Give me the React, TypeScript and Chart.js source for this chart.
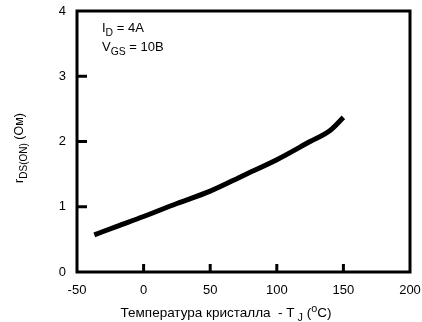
import React, { useEffect, useRef } from "react";
import { Chart, registerables } from "chart.js";

Chart.register(...registerables);

const temperatures = [-37, -20, 0, 25, 50, 75, 100, 125, 140, 150];
const resistance = [0.57, 0.7, 0.85, 1.05, 1.24, 1.48, 1.72, 2.0, 2.17, 2.37];
const xTicks = [-50, 0, 50, 100, 150, 200];
const yTicks = [0, 1, 2, 3, 4];

const FONT = "'Liberation Sans', Arial, sans-serif";

type Seg = { t: string; sub?: boolean; sup?: boolean };

function drawRich(ctx: CanvasRenderingContext2D, segs: Seg[], x: number, y: number, size: number, align: "left" | "center") {
  const widths = segs.map((s) => {
    ctx.font = `${s.sub || s.sup ? size * 0.8 : size}px ${FONT}`;
    return ctx.measureText(s.t).width;
  });
  const total = widths.reduce((a, b) => a + b, 0);
  let cx = align === "center" ? x - total / 2 : x;
  ctx.textAlign = "left";
  ctx.textBaseline = "alphabetic";
  segs.forEach((s, i) => {
    ctx.font = `${s.sub || s.sup ? size * 0.8 : size}px ${FONT}`;
    const dy = s.sub ? size * 0.3 : s.sup ? -size * 0.4 : 0;
    ctx.fillText(s.t, cx, y + dy);
    cx += widths[i];
  });
}

const framePlugin = {
  id: "frameAndText",
  afterDraw(chart: any) {
    const { ctx, chartArea: a, scales } = chart;
    ctx.save();
    ctx.strokeStyle = "#000";
    ctx.lineWidth = 3;
    ctx.strokeRect(a.left, a.top, a.right - a.left, a.bottom - a.top);
    // inner tick marks
    scales.x.ticks.forEach((t: any) => {
      if (t.value <= scales.x.min || t.value >= scales.x.max) return;
      const px = scales.x.getPixelForValue(t.value);
      ctx.beginPath();
      ctx.moveTo(px, a.bottom);
      ctx.lineTo(px, a.bottom - 8);
      ctx.stroke();
    });
    scales.y.ticks.forEach((t: any) => {
      if (t.value <= scales.y.min || t.value >= scales.y.max) return;
      const py = scales.y.getPixelForValue(t.value);
      ctx.beginPath();
      ctx.moveTo(a.left, py);
      ctx.lineTo(a.left + 10, py);
      ctx.stroke();
    });
    ctx.fillStyle = "#000";
    // annotation
    drawRich(ctx, [{ t: "I" }, { t: "D", sub: true }, { t: " = 4A" }], 102, 32, 13, "left");
    drawRich(ctx, [{ t: "V" }, { t: "GS", sub: true }, { t: " = 10B" }], 102, 51, 13, "left");
    // x title
    drawRich(
      ctx,
      [{ t: "Температура кристалла  - T" }, { t: " J", sub: true }, { t: " (" }, { t: "o", sup: true }, { t: "C)" }],
      226,
      317,
      13.5,
      "center"
    );
    // y title
    ctx.translate(23, 148);
    ctx.rotate(-Math.PI / 2);
    drawRich(ctx, [{ t: "r" }, { t: "DS(ON)", sub: true }, { t: " (Ом)" }], 0, 0, 12.5, "center");
    ctx.restore();
  },
};

export default function App() {
  const ref = useRef<HTMLCanvasElement>(null);
  useEffect(() => {
    const chart = new Chart(ref.current!, {
      type: "line",
      data: {
        datasets: [
          {
            data: temperatures.map((t, i) => ({ x: t, y: resistance[i] })),
            borderColor: "#000",
            borderWidth: 5,
            pointRadius: 0,
            tension: 0.4,
            cubicInterpolationMode: "monotone",
            borderCapStyle: "butt",
            fill: false,
          },
        ],
      },
      options: {
        responsive: false,
        animation: false,
        layout: { padding: { top: 11, right: 12, left: 0, bottom: 0 } },
        plugins: { legend: { display: false }, tooltip: { enabled: false } },
        scales: {
          x: {
            type: "linear",
            min: -50,
            max: 200,
            afterBuildTicks: (s: any) => {
              s.ticks = xTicks.map((v) => ({ value: v }));
            },
            afterFit: (s: any) => {
              s.height = 50;
              s.paddingLeft = 0;
              s.paddingRight = 0;
            },
            grid: { display: false },
            border: { display: false },
            ticks: { color: "#000", font: { family: FONT, size: 13 }, padding: 3, maxRotation: 0 },
          },
          y: {
            type: "linear",
            min: 0,
            max: 4,
            afterBuildTicks: (s: any) => {
              s.ticks = yTicks.map((v) => ({ value: v }));
            },
            afterFit: (s: any) => {
              s.width = 77;
              s.paddingTop = 0;
              s.paddingBottom = 0;
            },
            grid: { display: false },
            border: { display: false },
            ticks: { color: "#000", font: { family: FONT, size: 13 }, padding: 3 },
          },
        },
      },
      plugins: [framePlugin],
    });
    return () => chart.destroy();
  }, []);
  return (
    <div style={{ position: "fixed", left: 0, top: 0, width: 422, height: 322, background: "#fff" }}>
      <canvas ref={ref} width={422} height={322} />
    </div>
  );
}
